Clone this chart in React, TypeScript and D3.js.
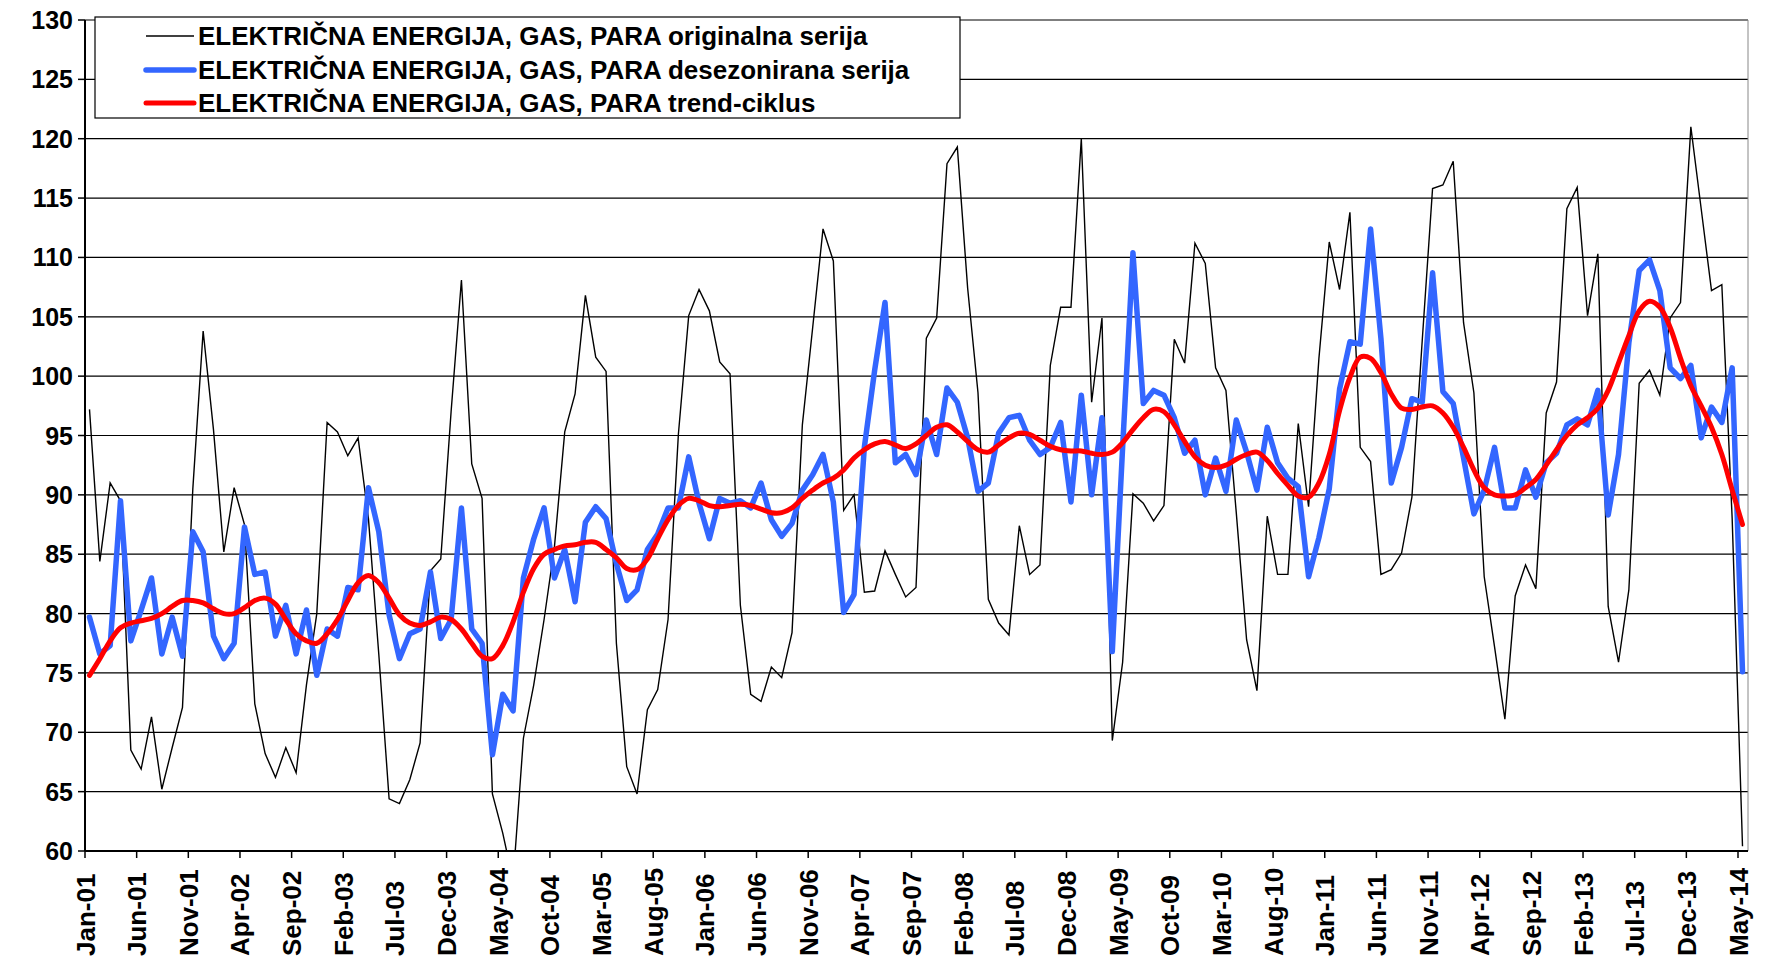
import * as d3 from "d3";
import React, { useRef, useEffect } from "react";

// series values, one per month Jan-01 .. May-14
const original = [
  97.2, 84.4, 91.0, 89.5, 68.5, 66.9, 71.3, 65.2, 68.7, 72.1, 90.5, 103.8,
  95.5, 85.2, 90.6, 87.5, 72.4, 68.2, 66.2, 68.7, 66.6, 74.0, 80.0, 96.1,
  95.3, 93.3, 94.8, 88.0, 76.6, 64.4, 64.0, 66.0, 69.1, 83.6, 84.6, 97.0,
  108.1, 92.6, 89.7, 64.8, 61.5, 57.5, 69.5, 74.0, 79.5, 85.6, 95.3, 98.5,
  106.8, 101.6, 100.4, 77.5, 67.1, 64.8, 71.9, 73.6, 79.5, 95.1, 105.1, 107.3,
  105.5, 101.2, 100.2, 80.7, 73.2, 72.6, 75.5, 74.6, 78.4, 95.9, 104.1, 112.4,
  109.7, 88.7, 90.0, 81.8, 81.9, 85.3, 83.3, 81.4, 82.2, 103.2, 104.9, 117.9,
  119.3, 107.4, 98.6, 81.2, 79.2, 78.2, 87.4, 83.3, 84.1, 100.9, 105.8, 105.8,
  120.0, 97.8, 104.9, 69.3, 75.9, 90.1, 89.3, 87.8, 89.1, 103.1, 101.1, 111.2,
  109.5, 100.7, 98.8, 88.5, 77.8, 73.5, 88.2, 83.3, 83.3, 96.0, 89.0, 101.5,
  111.3, 107.3, 113.8, 94.0, 92.8, 83.3, 83.7, 85.1, 89.8, 103.0, 115.8, 116.1,
  118.1, 104.5, 98.6, 83.1, 77.2, 71.1, 81.5, 84.1, 82.1, 96.9, 99.5, 114.1,
  115.9, 105.1, 110.3, 80.6, 75.9, 82.0, 99.4, 100.5, 98.4, 104.9, 106.2, 121.0,
  114.1, 107.2, 107.7, 88.0, 60.4
];

const seasonal = [
  79.7, 76.6, 77.3, 89.5, 77.7, 80.3, 83.0, 76.6, 79.7, 76.4, 86.9, 85.2,
  78.1, 76.2, 77.5, 87.3, 83.3, 83.5, 78.1, 80.7, 76.6, 80.3, 74.8, 78.7,
  78.1, 82.2, 82.0, 90.6, 86.9, 79.9, 76.2, 78.3, 78.7, 83.5, 77.9, 79.5,
  88.9, 78.7, 77.5, 68.1, 73.2, 71.8, 83.0, 86.3, 88.9, 83.0, 85.4, 81.0,
  87.7, 89.0, 88.0, 84.2, 81.1, 82.0, 85.4, 86.7, 88.9, 88.9, 93.2, 89.3,
  86.3, 89.7, 89.3, 89.5, 88.9, 91.0, 87.9, 86.5, 87.6, 90.4, 91.7, 93.4,
  89.4, 80.1, 81.6, 94.0, 100.5, 106.2, 92.7, 93.4, 91.7, 96.3, 93.4, 99.0,
  97.8, 94.8, 90.3, 91.0, 95.2, 96.5, 96.7, 94.6, 93.4, 94.0, 96.1, 89.4,
  98.4, 90.0, 96.5, 76.8, 94.0, 110.4, 97.7, 98.8, 98.4, 96.5, 93.5, 94.6,
  90.0, 93.1, 90.3, 96.3, 93.6, 90.4, 95.7, 92.7, 91.4, 90.7, 83.1, 86.4,
  90.5, 98.9, 102.9, 102.7, 112.4, 103.2, 91.0, 94.0, 98.1, 97.8, 108.7, 98.7,
  97.7, 93.1, 88.4, 90.4, 94.0, 88.9, 88.9, 92.1, 89.8, 92.7, 93.5, 95.9,
  96.4, 95.9, 98.8, 88.3, 93.4, 102.8, 108.9, 109.8, 107.2, 100.7, 99.8, 100.9,
  94.8, 97.4, 96.1, 100.7, 75.1
];

const trend = [
  74.8, 76.2, 77.7, 78.8, 79.2, 79.4, 79.6, 80.0, 80.6, 81.1, 81.1, 80.9,
  80.4, 80.0, 80.0, 80.5, 81.1, 81.3, 80.8, 79.5, 78.3, 77.7, 77.5, 78.3,
  79.5, 81.1, 82.6, 83.2, 82.6, 81.3, 79.9, 79.2, 79.0, 79.3, 79.7, 79.5,
  78.7, 77.5, 76.4, 76.2, 77.3, 79.3, 81.8, 83.8, 85.0, 85.4, 85.7, 85.8,
  86.0, 86.0, 85.4, 84.7, 83.8, 83.7, 84.6, 86.3, 87.9, 89.1, 89.7, 89.5,
  89.1, 89.0, 89.1, 89.2, 89.1, 88.8, 88.5, 88.5, 88.9, 89.7, 90.4, 91.0,
  91.4, 92.1, 93.1, 93.8, 94.3, 94.5, 94.2, 93.9, 94.3, 95.0, 95.7, 95.9,
  95.3, 94.5, 93.8, 93.6, 94.2, 94.8, 95.2, 95.1, 94.6, 94.1, 93.8, 93.7,
  93.7, 93.5, 93.4, 93.6, 94.4, 95.5, 96.5, 97.2, 97.0, 95.9, 94.5, 93.2,
  92.5, 92.3, 92.5, 93.0, 93.4, 93.6, 92.9, 91.8, 90.8, 89.9, 89.8, 91.0,
  93.4, 97.1, 99.9, 101.6, 101.5, 100.3, 98.5, 97.3, 97.2, 97.4, 97.5, 96.9,
  95.7, 94.0, 92.1, 90.6, 90.0, 89.9, 90.0, 90.6, 91.3, 92.5, 93.8, 95.0,
  95.9, 96.5, 97.3, 98.8, 101.1, 103.4, 105.5, 106.3, 105.8, 104.1, 101.5, 99.2,
  97.5, 95.7, 93.4, 90.4, 87.5
];

// tick labels, every 5th month
const tickLabels = [
  "Jan-01", "Jun-01", "Nov-01", "Apr-02", "Sep-02", "Feb-03", "Jul-03", "Dec-03",
  "May-04", "Oct-04", "Mar-05", "Aug-05", "Jan-06", "Jun-06", "Nov-06", "Apr-07",
  "Sep-07", "Feb-08", "Jul-08", "Dec-08", "May-09", "Oct-09", "Mar-10", "Aug-10",
  "Jan-11", "Jun-11", "Nov-11", "Apr-12", "Sep-12", "Feb-13", "Jul-13", "Dec-13",
  "May-14"
];
const yTicks = [60, 65, 70, 75, 80, 85, 90, 95, 100, 105, 110, 115, 120, 125, 130];

const seriesNames = [
  "ELEKTRIČNA ENERGIJA, GAS, PARA originalna serija",
  "ELEKTRIČNA ENERGIJA, GAS, PARA desezonirana serija",
  "ELEKTRIČNA ENERGIJA, GAS, PARA trend-ciklus"
];

const width = 1765;
const height = 960;
const font = "'Liberation Sans', Arial, sans-serif";

const Chart = () => {
  const ref = useRef(null);
  useEffect(() => {
    const svg = d3.select(ref.current);
    svg.selectAll("*").remove();

    const left = 85, right = 1748, top = 20, bottom = 851;
    const x = d3.scaleLinear().domain([0, original.length - 1]).range([89.5, 1742.5]);
    const y = d3.scaleLinear().domain([60, 130]).range([bottom, top]);

    svg.append("rect").attr("width", width).attr("height", height).attr("fill", "#fff");

    // gridlines
    svg.append("g").selectAll("line").data(yTicks.slice(1)).enter().append("line")
      .attr("x1", left).attr("x2", right)
      .attr("y1", (d) => y(d)).attr("y2", (d) => y(d))
      .attr("stroke", "#000").attr("stroke-width", 1.2);
    // right border
    svg.append("line").attr("x1", right).attr("x2", right).attr("y1", top).attr("y2", bottom)
      .attr("stroke", "#888").attr("stroke-width", 1);

    // y axis
    const yAxis = svg.append("g");
    yAxis.append("line").attr("x1", left).attr("x2", left).attr("y1", top).attr("y2", bottom)
      .attr("stroke", "#000").attr("stroke-width", 2);
    yAxis.selectAll("line.tick").data(yTicks).enter().append("line")
      .attr("class", "tick")
      .attr("x1", left - 7).attr("x2", left)
      .attr("y1", (d) => y(d)).attr("y2", (d) => y(d))
      .attr("stroke", "#000").attr("stroke-width", 1.5);
    yAxis.selectAll("text").data(yTicks).enter().append("text")
      .attr("x", 73).attr("y", (d) => y(d))
      .attr("dy", "0.36em")
      .attr("text-anchor", "end")
      .style("font-family", font).style("font-weight", "bold").style("font-size", "25px")
      .text((d) => d);

    // x axis
    const xAxis = svg.append("g");
    xAxis.append("line").attr("x1", left).attr("x2", right).attr("y1", bottom).attr("y2", bottom)
      .attr("stroke", "#000").attr("stroke-width", 2);
    xAxis.selectAll("line.tick").data(tickLabels).enter().append("line")
      .attr("class", "tick")
      .attr("x1", (d, i) => x(i * 5) - 4.5).attr("x2", (d, i) => x(i * 5) - 4.5)
      .attr("y1", bottom).attr("y2", bottom + 7)
      .attr("stroke", "#000").attr("stroke-width", 1.5);
    xAxis.selectAll("text").data(tickLabels).enter().append("text")
      .attr("transform", (d, i) => `translate(${x(i * 5) - 4.5 + 9.5},956) rotate(-90)`)
      .attr("text-anchor", "start")
      .style("font-family", font).style("font-weight", "bold").style("font-size", "26px")
      .text((d) => d);

    // clip for lines
    svg.append("clipPath").attr("id", "plot-clip").append("rect")
      .attr("x", left).attr("y", top - 10).attr("width", right - left).attr("height", bottom - top + 10);
    const plot = svg.append("g").attr("clip-path", "url(#plot-clip)");

    const straight = d3.line().x((d, i) => x(i)).y((d) => y(d));
    const smooth = d3.line().x((d, i) => x(i)).y((d) => y(d)).curve(d3.curveCatmullRom.alpha(0.5));

    plot.append("path").datum(original).attr("d", straight)
      .attr("fill", "none").attr("stroke", "#000").attr("stroke-width", 1.4);
    plot.append("path").datum(seasonal).attr("d", straight)
      .attr("fill", "none").attr("stroke", "#3366ff").attr("stroke-width", 5.5)
      .attr("stroke-linejoin", "round").attr("stroke-linecap", "round");
    plot.append("path").datum(trend).attr("d", smooth)
      .attr("fill", "none").attr("stroke", "#ff0000").attr("stroke-width", 5)
      .attr("stroke-linejoin", "round").attr("stroke-linecap", "round");

    // legend
    const legend = svg.append("g");
    legend.append("rect").attr("x", 95).attr("y", 17).attr("width", 865).attr("height", 101)
      .attr("fill", "#fff").attr("stroke", "#000").attr("stroke-width", 1.2);
    const styles = [
      { color: "#000", w: 1.4 },
      { color: "#3366ff", w: 5.5 },
      { color: "#ff0000", w: 5 }
    ];
    const rowY = [36, 70, 103];
    seriesNames.forEach((name, i) => {
      legend.append("line").attr("x1", 146).attr("x2", 194).attr("y1", rowY[i]).attr("y2", rowY[i])
        .attr("stroke", styles[i].color).attr("stroke-width", styles[i].w)
        .attr("stroke-linecap", i === 0 ? "butt" : "round");
      legend.append("text").attr("x", 198).attr("y", rowY[i]).attr("dy", "0.36em")
        .style("font-family", font).style("font-weight", "bold").style("font-size", "26px")
        .text(name);
    });
  }, []);

  return <svg ref={ref} width={width} height={height} style={{ position: "absolute", left: 0, top: 0 }} />;
};

export default function App() {
  return <Chart />;
}
